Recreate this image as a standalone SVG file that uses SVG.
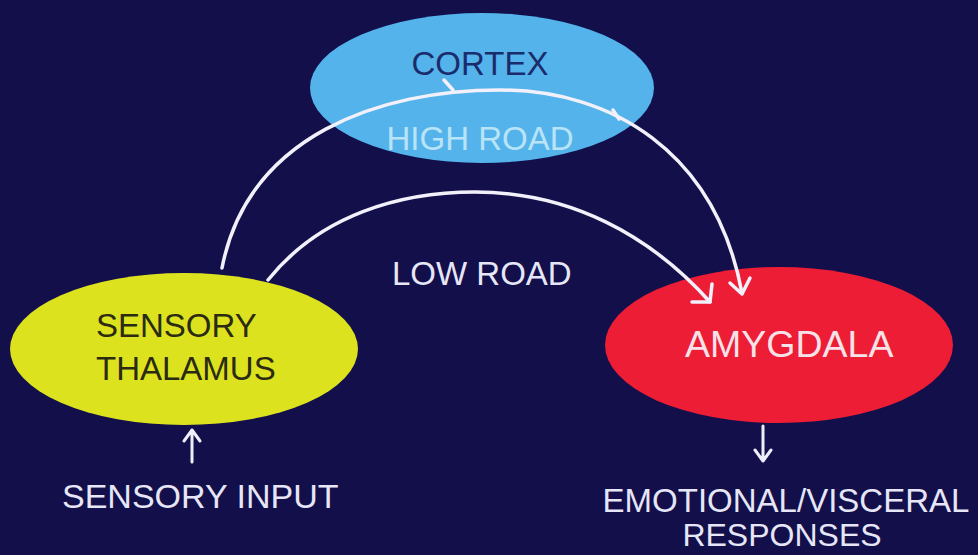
<svg xmlns="http://www.w3.org/2000/svg" width="978" height="555" viewBox="0 0 978 555">
  <style>
    text { font-family: "Liberation Sans", Arial, sans-serif; font-size: 33px; }
    .lbl { fill: #e6e6f6; }
    .road { fill: none; stroke: #f2f0fa; stroke-width: 3.5; stroke-linecap: round; stroke-linejoin: round; }
    .thin { fill: none; stroke: #eeeefa; stroke-width: 3; stroke-linecap: round; stroke-linejoin: round; }
  </style>
  <rect width="978" height="555" fill="#120f4b"/>

  <g id="cortex">
    <ellipse cx="482" cy="88" rx="172" ry="75" fill="#54b3ea"/>
    <text x="480" y="75" text-anchor="middle" fill="#1b2c6c">CORTEX</text>
  </g>

  <g id="thalamus">
    <ellipse cx="184" cy="349" rx="174" ry="76" fill="#dde21f"/>
    <text x="96" y="337" fill="#2b2b12">SENSORY</text>
    <text x="96" y="380" fill="#2b2b12">THALAMUS</text>
  </g>

  <g id="amygdala">
    <ellipse cx="779" cy="345" rx="174" ry="78" fill="#ec1d34"/>
    <text x="685" y="357" fill="#f8e2ea" style="font-size:37.5px">AMYGDALA</text>
  </g>

  <g id="connectors">
    <!-- high road: thalamus -> cortex -> amygdala -->
    <path class="road" d="M222,268 C248,135 380,90 500,90 C610,90 715,150 742,293"/>
    <path class="road" d="M444,80 L453,90"/>
    <path class="road" d="M613,110 L619,119"/>
    <path class="road" d="M730,283 L742,294 L750,278"/>
    <!-- low road: thalamus -> amygdala -->
    <path class="road" d="M268,280 C320,215 400,192 475,192 C570,192 650,235 710,302"/>
    <path class="road" d="M692,302 L710,302 L712,284"/>
    <!-- sensory input arrow -->
    <path class="thin" d="M192,462 L192,430 M184,441 L192,430 L200,441"/>
    <!-- output arrow -->
    <path class="thin" d="M763,426 L763,461 M755,450 L763,461 L771,450"/>
  </g>

  <g id="labels">
    <text x="480" y="150" text-anchor="middle" fill="#b9e3f7">HIGH ROAD</text>
    <text x="392" y="285" class="lbl">LOW ROAD</text>
    <text x="62" y="508" class="lbl" style="font-size:34px">SENSORY INPUT</text>
    <text x="786" y="512" text-anchor="middle" class="lbl">EMOTIONAL/VISCERAL</text>
    <text x="782" y="546" text-anchor="middle" class="lbl" style="font-size:32px">RESPONSES</text>
  </g>
</svg>
